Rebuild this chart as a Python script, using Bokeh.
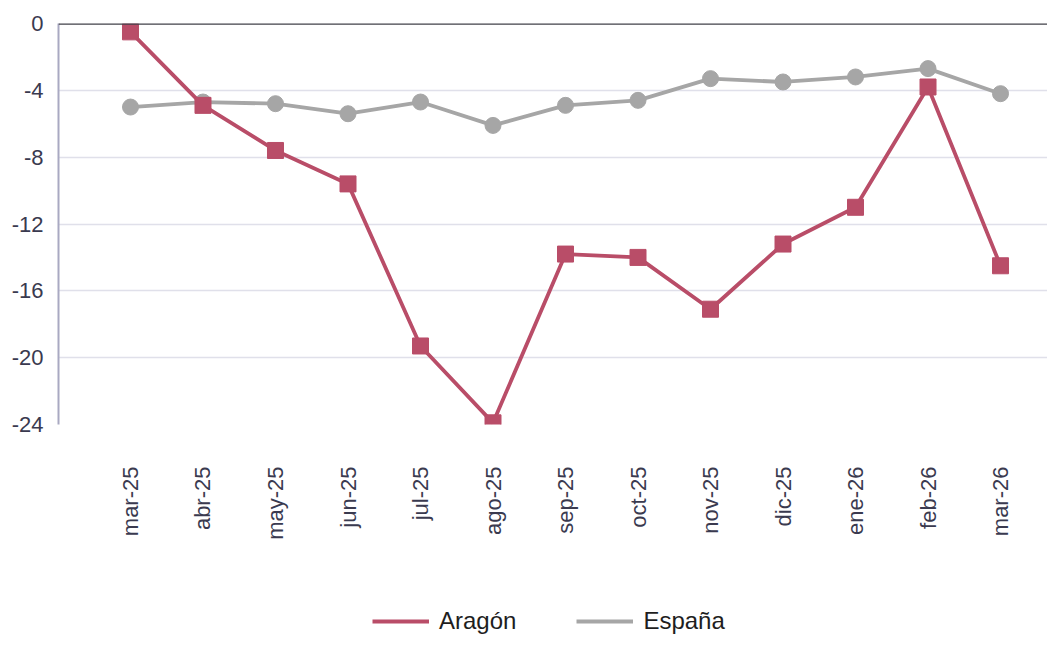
import math
from bokeh.plotting import figure
from bokeh.layouts import column
from bokeh.models import ColumnDataSource, Range1d, FixedTicker, Span, Legend, LegendItem
from bokeh.embed import file_html
from bokeh.resources import INLINE

months = ["mar-25", "abr-25", "may-25", "jun-25", "jul-25", "ago-25", "sep-25",
          "oct-25", "nov-25", "dic-25", "ene-26", "feb-26", "mar-26"]
aragon = [-0.5, -4.9, -7.6, -9.6, -19.3, -23.9, -13.8, -14.0, -17.1, -13.2, -11.0, -3.8, -14.5]
espana = [-5.0, -4.7, -4.8, -5.4, -4.7, -6.1, -4.9, -4.6, -3.3, -3.5, -3.2, -2.7, -4.2]
y_ticks = [0, -4, -8, -12, -16, -20, -24]
series_names = ["Aragón", "España"]

FONT = "Liberation Sans"
RED = "#b94d68"
GREY = "#a6a6a6"
W = 1047

idx = list(range(len(months)))
src = ColumnDataSource(dict(x=idx, aragon=aragon, espana=espana))

p = figure(width=W, height=600, output_backend="svg", toolbar_location=None,
           x_range=Range1d(-0.993, 12.648), y_range=Range1d(-24, 0),
           min_border_left=58, min_border_top=23, min_border_right=0,
           min_border_bottom=176)
p.outline_line_color = None

p.xaxis.ticker = FixedTicker(ticks=idx)
p.xaxis.major_label_overrides = {i: m for i, m in enumerate(months)}
p.xaxis.major_label_orientation = math.pi / 2
p.xaxis.axis_line_color = None
p.xaxis.major_tick_line_color = None
p.xaxis.minor_tick_line_color = None
p.xaxis.major_label_standoff = 36
p.xaxis.major_label_text_font = FONT
p.xaxis.major_label_text_font_size = "22px"
p.xaxis.major_label_text_color = "#3a3a4f"

p.yaxis.ticker = FixedTicker(ticks=y_ticks)
p.yaxis.major_label_overrides = {t: str(t) for t in y_ticks}
p.yaxis.axis_line_color = "#a9a9c2"
p.yaxis.axis_line_width = 2
p.yaxis.major_tick_line_color = None
p.yaxis.minor_tick_line_color = None
p.yaxis.major_label_standoff = 9
p.yaxis.major_label_text_font = FONT
p.yaxis.major_label_text_font_size = "22px"
p.yaxis.major_label_text_color = "#3a3a4f"

p.xgrid.grid_line_color = None
p.ygrid.grid_line_color = "#e0e0ea"
p.ygrid.grid_line_width = 1.5

p.add_layout(Span(location=0, dimension="width", line_color="#404048", line_width=2.5))

l2 = p.line("x", "espana", source=src, line_color=GREY, line_width=3.8)
m2 = p.scatter("x", "espana", source=src, marker="circle", size=16,
               fill_color=GREY, line_color=GREY)
l1 = p.line("x", "aragon", source=src, line_color=RED, line_width=3.8)
m1 = p.scatter("x", "aragon", source=src, marker="square", size=16,
               fill_color=RED, line_color=RED)

# legend in its own strip below the chart (dummy lines lie outside its visible range)
lg = figure(width=W, height=35, output_backend="svg", toolbar_location=None,
            x_range=Range1d(0, 1), y_range=Range1d(0, 1),
            min_border_left=0, min_border_right=0, min_border_top=0, min_border_bottom=0)
lg.axis.visible = False
lg.grid.visible = False
lg.outline_line_color = None
d1 = lg.line(x=[5, 6], y=[5, 5], line_color=RED, line_width=4)
d2 = lg.line(x=[5, 6], y=[5, 5], line_color=GREY, line_width=4)
legend = Legend(items=[LegendItem(label=series_names[0], renderers=[d1]),
                       LegendItem(label=series_names[1], renderers=[d2])],
                orientation="horizontal", location=(314, 0),
                label_text_font=FONT, label_text_font_size="24px",
                label_text_color="#1e1e1e", glyph_width=57, glyph_height=24,
                spacing=60, label_standoff=10, border_line_color=None,
                background_fill_alpha=0, margin=0, padding=0)
lg.add_layout(legend, "center")

layout = column(p, lg, spacing=0)
open("out.html", "w").write(file_html(layout, INLINE))
